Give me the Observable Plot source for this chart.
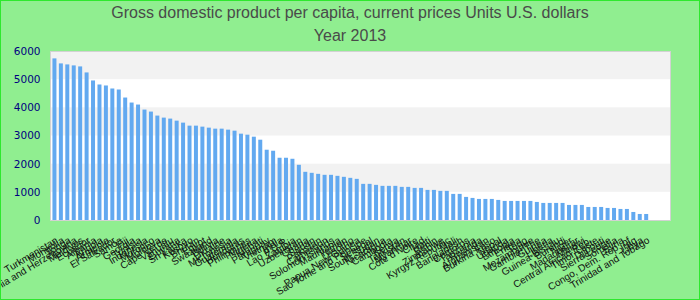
<!DOCTYPE html>
<html><head><meta charset="utf-8">
<script src="https://cdn.jsdelivr.net/npm/d3@7"></script>
<script src="https://cdn.jsdelivr.net/npm/@observablehq/plot@0.6"></script>
<style>
html,body{margin:0;padding:0;}
#chart{width:700px;height:300px;box-sizing:border-box;border:1px solid #2ee82e;background:#90ee90;position:relative;overflow:hidden;}
.title{font-family:"Liberation Sans",Arial,sans-serif;font-size:16px;color:#4a4a4a;text-align:center;line-height:23px;height:39px;}
svg{display:block;}
</style></head><body>
<div id="chart"><div class="title">Gross domestic product per capita, current prices Units U.S. dollars<br>Year 2013</div></div>
<script>
const countries = ["Turkmenistan","Mongolia","Tonga","Bosnia and Herzegovina","Maldives","Ecuador","Albania","Angola","Armenia","El Salvador",
"Samoa","Fiji","Georgia","Tunisia","Indonesia","Morocco","Moldova","Cape Verde","Vanuatu","Guyana",
"Sri Lanka","Kosovo","Bhutan","Egypt","Swaziland","Bolivia","Ukraine","Micronesia","Guatemala","Honduras",
"Philippines","Nigeria","Kiribati","Paraguay","Vietnam","India","Lao P.D.R.","Zambia","Uzbekistan","Ghana",
"Sudan","Pakistan","Cameroon","Solomon Islands","Mauritania","Yemen","Lesotho","Papua New Guinea","Sao Tome and Principe","Senegal",
"South Sudan","Nicaragua","Cambodia","Kenya","Tajikistan","Myanmar","Cote d'Ivoire","Chad","Haiti","Benin",
"Zimbabwe","Kyrgyz Republic","Mali","Bangladesh","Comoros","Tanzania","Rwanda","Afghanistan","Burkina Faso","Nepal",
"Uganda","Ethiopia","Eritrea","Togo","Mozambique","Gambia, The","Guinea","Liberia","Guinea-Bissau","Burundi",
"Niger","Madagascar","Malawi","Central African Rep.","Timor-Leste","Djibouti","Sierra Leone","Somalia","Syria","Congo, Dem. Rep. of",
"Iraq","Libya","Trinidad and Tobago"];
const gdp = [5738,5560,5524,5489,5453,5239,4954,4811,4776,4669,
4633,4348,4170,4099,3920,3849,3707,3635,3600,3528,
3457,3350,3350,3315,3279,3243,3243,3208,3172,3065,
3029,2958,2851,2495,2459,2210,2210,2174,1960,1711,
1675,1639,1604,1604,1568,1533,1497,1461,1283,1283,
1247,1212,1212,1212,1176,1176,1140,1140,1069,1069,
1034,1034,927,927,820,784,748,748,748,713,
677,677,677,677,677,641,606,606,606,606,
535,535,535,463,463,463,428,428,392,392,
285,214,214];
const yTicks = [0,1000,2000,3000,4000,5000,6000];
const bandStarts = [1000,3000,5000];
const bandSize = 1000;

const data = countries.map((c,i)=>({country:c, value:gdp[i]}));
const bands = bandStarts.map(v=>({y1:v, y2:v+bandSize}));

const plot = Plot.plot({
  width:698, height:259,
  marginTop:11, marginBottom:79, marginLeft:49, marginRight:29,
  style:{background:"transparent", overflow:"visible"},
  x:{domain:countries, range:[49, 49 + 93*620/96], padding:0.38, axis:null},
  y:{domain:[0,6000]},
  marks:[
    Plot.frame({fill:"white"}),
    Plot.rect(bands,{y1:"y1", y2:"y2", fill:"#f2f2f2"}),
    Plot.barY(data,{x:"country", y:"value", fill:"#62a9f0"}),
    Plot.frame({stroke:"#d2d2d2"}),
    Plot.axisY({ticks:yTicks, tickFormat:d3.format("d"), tickSize:0, tickPadding:10, fill:"#000080", fontSize:10.5, fontFamily:"DejaVu Sans", label:null}),
    Plot.text(countries,{x:d=>d, frameAnchor:"bottom", dy:19, dx:2, rotate:-31, textAnchor:"end", lineAnchor:"middle", fontSize:10, fill:"#111", fontFamily:"Liberation Sans"})
  ]
});
document.getElementById("chart").appendChild(plot);
</script>
</body></html>
